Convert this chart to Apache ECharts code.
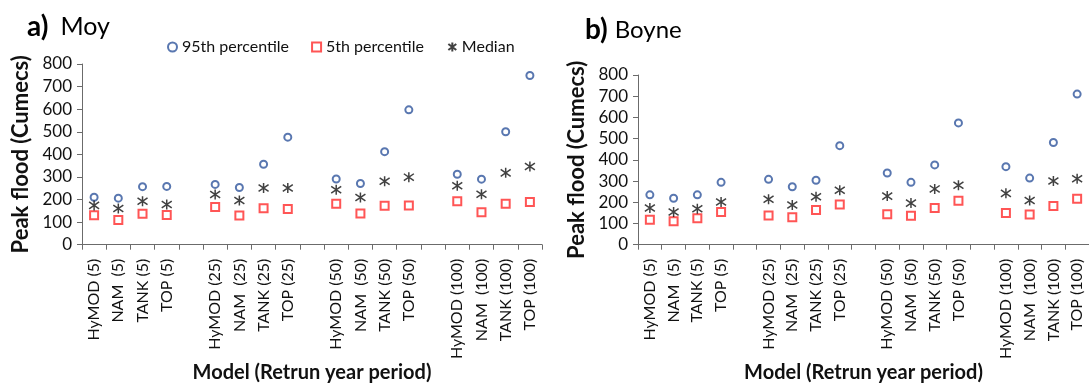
<!DOCTYPE html>
<html>
<head>
<meta charset="utf-8">
<script src="https://cdn.jsdelivr.net/npm/echarts@6/dist/echarts.min.js"></script>
<style>
html,body{margin:0;padding:0;background:#fff;}
#c{width:1089px;height:384px;}
</style>
</head>
<body>
<div id="c"></div>
<script>
// Categories (empty strings are the gaps between return-period groups)
const categories = ['HyMOD (5)','NAM  (5)','TANK (5)','TOP (5)','',
  'HyMOD (25)','NAM  (25)','TANK (25)','TOP (25)','',
  'HyMOD (50)','NAM  (50)','TANK (50)','TOP (50)','',
  'HyMOD (100)','NAM  (100)','TANK (100)','TOP (100)'];
const yTicks = [0,100,200,300,400,500,600,700,800];

// a) Moy
const moyP95    = [210,206,257,258, 267,253,356,476, 291,271,412,597, 312,290,500,749];
const moyP5     = [130,109,137,131, 167,129,161,158, 181,138,172,174, 192,144,181,189];
const moyMedian = [174,160,192,178, 222,196,251,251, 243,209,281,299, 261,223,318,346];

// b) Boyne
const boyP95    = [235,219,235,294, 308,273,304,467, 338,294,376,574, 368,314,482,710];
const boyP5     = [117,111,125,154, 138,129,163,190, 144,137,173,207, 149,142,182,217];
const boyMedian = [173,154,169,201, 214,187,226,257, 229,196,263,280, 242,208,300,311];

const seriesNames = ['95th percentile','5th percentile','Median'];

const FONT = 'Lato';
const TXT = '#111';
const AXC = '#6b6b6b';
const slotIdx = categories.map((c,i)=>c ? i : -1).filter(i=>i>=0);
const toData = vals => vals.map((v,k)=>[slotIdx[k], v]);

const starPath = 'path://M5,0L5,10M0.6,1.6L9.4,8.4M0.6,8.4L9.4,1.6';

function xAxisCfg(gi){
  return {
    type:'category', gridIndex:gi, data:categories, boundaryGap:true,
    axisLine:{show:true, lineStyle:{color:AXC, width:1}},
    axisTick:{show:true, interval:0, length:5, lineStyle:{color:AXC}},
    axisLabel:{interval:0, rotate:90, margin:14, fontFamily:FONT, fontSize:16, color:TXT},
    splitLine:{show:false},
    name:'Model (Retrun year period)', nameLocation:'middle', nameGap:111,
    nameTextStyle:{fontFamily:FONT, fontSize:20, fontWeight:'bold', color:TXT}
  };
}
function yAxisCfg(gi){
  return {
    type:'value', gridIndex:gi, min:yTicks[0], max:yTicks[yTicks.length-1], interval:100,
    axisLine:{show:true, lineStyle:{color:AXC, width:1}},
    axisTick:{show:true, length:5, lineStyle:{color:AXC}},
    axisLabel:{margin:10, fontFamily:FONT, fontSize:17, color:TXT},
    splitLine:{show:false},
    name:'Peak flood (Cumecs)', nameLocation:'middle', nameGap:50,
    nameTextStyle:{fontFamily:FONT, fontSize:22, fontWeight:'bold', color:TXT}
  };
}
function seriesFor(gi, p95, p5, med){
  return [
    {name:seriesNames[0], type:'scatter', xAxisIndex:gi, yAxisIndex:gi, data:toData(p95),
     symbol:'emptyCircle', symbolSize:7, itemStyle:{color:'#2f559c', borderWidth:1.5}},
    {name:seriesNames[1], type:'scatter', xAxisIndex:gi, yAxisIndex:gi, data:toData(p5),
     symbol:'emptyRect', symbolSize:8, itemStyle:{color:'#ff2a2a', borderWidth:1.5}},
    {name:seriesNames[2], type:'scatter', xAxisIndex:gi, yAxisIndex:gi, data:toData(med),
     symbol:starPath, symbolSize:10, itemStyle:{color:'none', borderColor:'#111', borderWidth:1.5}}
  ];
}

const chart = echarts.init(document.getElementById('c'), null, {renderer:'canvas'});
chart.setOption({
  animation:false,
  backgroundColor:'#fff',
  title:[
    {text:'{b|a)}{n|Moy}', left:22, top:8,
     textStyle:{rich:{b:{fontFamily:FONT,fontSize:28,fontWeight:'bold',color:'#000'},
                      n:{fontFamily:FONT,fontSize:25,fontWeight:'normal',color:'#000',padding:[0,0,0,12]}}}},
    {text:'{b|b)}{n|Boyne}', left:580, top:11,
     textStyle:{rich:{b:{fontFamily:FONT,fontSize:28,fontWeight:'bold',color:'#000'},
                      n:{fontFamily:FONT,fontSize:24,fontWeight:'normal',color:'#000',padding:[0,0,0,7]}}}}
  ],
  legend:{
    data:seriesNames, left:162, top:34, itemWidth:9, itemHeight:9, itemGap:22,
    textStyle:{fontFamily:FONT, fontSize:16, color:TXT}
  },
  grid:[
    {left:82, top:64, width:460, height:188},
    {left:638, top:75, width:460, height:177}
  ],
  xAxis:[xAxisCfg(0), xAxisCfg(1)],
  yAxis:[yAxisCfg(0), yAxisCfg(1)],
  series:[].concat(seriesFor(0,moyP95,moyP5,moyMedian), seriesFor(1,boyP95,boyP5,boyMedian))
});
</script>
</body>
</html>
